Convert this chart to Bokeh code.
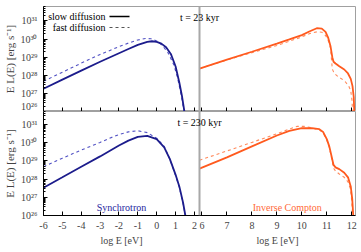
import math
from bokeh.plotting import figure
from bokeh.models import (Range1d, FixedTicker, CustomJSTickFormatter, Span, Label, Arrow, LinearAxis)
from bokeh.layouts import column
from bokeh.embed import file_html
from bokeh.resources import INLINE

# ---------------- data (log10 of E L(E) in erg/s, x = log10 E in eV) ----------------
syn_slow_23_x = [-6, -5, -4, -3, -2, -1.5, -1, -0.5, -0.25, 0, 0.25, 0.5, 0.75, 1.0, 1.2, 1.35, 1.47]
syn_slow_23_y = [27.26, 27.76, 28.26, 28.75, 29.22, 29.45, 29.68, 29.84, 29.88, 29.85, 29.75, 29.55, 29.18, 28.5, 27.6, 26.8, 26.0]
syn_fast_23_x = [-6, -5, -4, -3, -2, -1.5, -1, -0.6, -0.3, 0, 0.3, 0.6, 0.9, 1.1, 1.3, 1.45]
syn_fast_23_y = [27.67, 28.17, 28.67, 29.15, 29.58, 29.78, 29.95, 30.03, 30.02, 29.9, 29.65, 29.25, 28.6, 27.9, 26.9, 26.0]

syn_slow_230_x = [-6, -5, -4, -3, -2.5, -2, -1.5, -1, -0.5, 0, 0.4, 0.7, 1.0, 1.2, 1.4, 1.52]
syn_slow_230_y = [27.53, 28.1, 28.68, 29.25, 29.55, 29.85, 30.12, 30.32, 30.38, 30.2, 29.75, 29.1, 28.25, 27.6, 26.7, 26.0]
syn_fast_230_x = [-6, -5, -4, -3, -2.5, -2, -1.5, -1, -0.5, 0, 0.4, 0.7, 1.0, 1.2, 1.4, 1.52]
syn_fast_230_y = [28.68, 29.15, 29.6, 30.02, 30.25, 30.45, 30.6, 30.66, 30.56, 30.25, 29.8, 29.1, 28.2, 27.55, 26.65, 26.0]

ic_slow_23_x = [5.9, 7, 8, 9, 9.5, 10, 10.3, 10.6, 10.8, 10.95, 11.05, 11.15, 11.22, 11.27, 11.35, 11.5, 11.7, 11.85, 11.96, 12.03, 12.08, 12.1]
ic_slow_23_y = [28.37, 28.86, 29.3, 29.75, 29.98, 30.22, 30.42, 30.6, 30.58, 30.4, 30.1, 29.6, 29.0, 28.75, 28.65, 28.5, 28.32, 28.1, 27.8, 27.4, 26.8, 26.0]
ic_fast_23_x = [5.9, 7, 8, 9, 9.5, 10, 10.3, 10.6, 10.8, 10.95, 11.05, 11.15, 11.22, 11.3, 11.45, 11.6, 11.75, 11.88, 11.96, 12.01, 12.03]
ic_fast_23_y = [28.37, 28.85, 29.25, 29.65, 29.88, 30.12, 30.3, 30.4, 30.38, 30.2, 29.95, 29.5, 28.35, 28.1, 27.93, 27.8, 27.63, 27.4, 27.15, 26.6, 26.0]

ic_slow_230_x = [5.9, 7, 8, 9, 9.5, 10, 10.4, 10.7, 10.85, 11.0, 11.1, 11.2, 11.27, 11.35, 11.5, 11.7, 11.85, 11.96, 12.02, 12.06]
ic_slow_230_y = [28.58, 29.2, 29.8, 30.4, 30.65, 30.8, 30.8, 30.75, 30.6, 30.2, 29.8, 29.2, 28.78, 28.65, 28.55, 28.35, 28.1, 27.6, 26.9, 26.0]
ic_fast_230_x = [5.9, 7, 8, 9, 9.5, 9.8, 10.1, 10.4, 10.7, 10.85, 11.0, 11.1, 11.2, 11.27, 11.35, 11.5, 11.7, 11.85, 11.95, 12.0, 12.03]
ic_fast_230_y = [29.04, 29.55, 30.02, 30.5, 30.75, 30.9, 30.9, 30.82, 30.7, 30.55, 30.15, 29.75, 29.1, 28.6, 28.45, 28.28, 28.1, 27.85, 27.45, 26.8, 26.0]

syn_ticks = [-6, -5, -4, -3, -2, -1, 0, 1, 2]
syn_tick_labels = ["-6", "-5", "-4", "-3", "-2", "-1", "0", "1", "2"]
ic_ticks = [6, 7, 8, 9, 10, 11, 12]
ic_tick_labels = ["6", "7", "8", "9", "10", "11", "12"]
y_decades = [26, 27, 28, 29, 30, 31]

times = ["t = 23 kyr", "t = 230 kyr"]
x_title = "log E [eV]"
y_title = "E L(E) [erg s\u207b\u00b9]"

# ---------------- axis limits ----------------
SYN_LO, SYN_HI = -6.0, 2.27
IC_LO, IC_HI = 5.9, 12.15
MAIN_LO, MAIN_HI = SYN_LO, SYN_LO + 2 * (SYN_HI - SYN_LO)
ICR_LO, ICR_HI = IC_LO - (IC_HI - IC_LO), IC_HI

FONT = "Liberation Serif"
SYN_SOLID, SYN_DASH = "#1c1c8c", "#5252c4"
IC_SOLID, IC_DASH = "#ff5a1e", "#ff8a5c"


def ic_to_main(v):
    return MAIN_LO + (v - ICR_LO) / (ICR_HI - ICR_LO) * (MAIN_HI - MAIN_LO)


all_ticks = [float(t) for t in syn_ticks] + [ic_to_main(t) for t in ic_ticks]
all_labels = syn_tick_labels + ic_tick_labels
title_ticks = [(SYN_LO + SYN_HI) / 2, ic_to_main((IC_LO + IC_HI) / 2)]

Y_FMT = CustomJSTickFormatter(code=r"""
const e = Math.round(Math.log10(tick));
const sup = {"0":"\u2070","1":"\u00b9","2":"\u00b2","3":"\u00b3","4":"\u2074",
             "5":"\u2075","6":"\u2076","7":"\u2077","8":"\u2078","9":"\u2079","-":"\u207b"};
return "10" + String(e).split("").map(c => sup[c]).join("");
""")


def make_panel(idx, frame_h, y_hi_exp, series, show_xlabels):
    p = figure(frame_width=312, frame_height=frame_h,
               x_range=Range1d(MAIN_LO, MAIN_HI),
               y_range=Range1d(10 ** y_decades[0], 10 ** y_hi_exp),
               y_axis_type="log", toolbar_location=None, output_backend="svg",
               min_border_left=41, min_border_right=8,
               min_border_top=6 if idx == 0 else 0,
               min_border_bottom=37 if show_xlabels else 0,
               outline_line_color="#a0a0a0", background_fill_color="white",
               border_fill_color="white")
    p.extra_x_ranges = {"ic": Range1d(ICR_LO, ICR_HI)}
    p.grid.visible = False

    # y axis
    ya = p.yaxis[0]
    minors = [m * 10.0 ** d for d in y_decades for m in range(2, 10)]
    ya.ticker = FixedTicker(ticks=[10.0 ** d for d in y_decades], minor_ticks=minors)
    ya.formatter = Y_FMT
    ya.major_tick_in, ya.major_tick_out = 4, 0
    ya.minor_tick_in, ya.minor_tick_out = 2, 0
    ya.axis_line_color = "black"
    ya.major_label_text_font = FONT
    ya.major_label_text_font_size = "10px"
    ya.major_label_standoff = 6
    ya.axis_label = y_title
    ya.axis_label_text_font = FONT
    ya.axis_label_text_font_style = "normal"
    ya.axis_label_text_font_size = "11px"
    ya.axis_label_standoff = 2

    # x axis
    xa = p.xaxis[0]
    xa.ticker = FixedTicker(ticks=all_ticks)
    xa.major_tick_in, xa.major_tick_out = 4, 0
    xa.minor_tick_in, xa.minor_tick_out = 0, 0
    xa.axis_line_color = "black"
    xa.major_label_text_font = FONT
    if show_xlabels:
        xa.formatter = CustomJSTickFormatter(args=dict(pos=all_ticks, labs=all_labels), code="""
let best = 0, bd = Infinity;
for (let i = 0; i < pos.length; i++) { const d = Math.abs(pos[i] - tick); if (d < bd) { bd = d; best = i; } }
return labs[best];
""")
        xa.major_label_text_font_size = "10px"
        xa.major_label_standoff = 6
        # second row under the tick labels: one title centred under each energy band
        ta = LinearAxis(ticker=FixedTicker(ticks=title_ticks),
                        formatter=CustomJSTickFormatter(args=dict(t=x_title), code="return t;"),
                        axis_line_color=None, major_tick_line_color=None,
                        minor_tick_line_color=None, major_label_standoff=3,
                        major_tick_in=0, major_tick_out=0,
                        major_label_text_font=FONT, major_label_text_font_size="10px")
        p.add_layout(ta, "below")
    else:
        xa.formatter = CustomJSTickFormatter(code="return '';")
        xa.major_label_text_color = None
        xa.major_label_text_font_size = "1px"
        xa.major_label_standoff = 0

    # curves
    (sx1, sy1), (sx2, sy2), (ix1, iy1), (ix2, iy2) = series
    p.line(sx2, [10 ** v for v in sy2], line_color=SYN_DASH, line_width=1.1, line_dash="3 3")
    p.line(sx1, [10 ** v for v in sy1], line_color=SYN_SOLID, line_width=1.8)
    p.line(ix2, [10 ** v for v in iy2], line_color=IC_DASH, line_width=1.1, line_dash="3 3",
           x_range_name="ic")
    p.line(ix1, [10 ** v for v in iy1], line_color=IC_SOLID, line_width=1.8, x_range_name="ic")

    # divider between the two energy bands
    p.add_layout(Span(location=IC_LO, dimension="height", x_range_name="ic",
                      line_color="#a8a8a8", line_width=2))

    # time label
    p.add_layout(Label(x=IC_LO, x_range_name="ic", y=frame_h - 10.5, y_units="screen",
                       text=times[idx], text_align="center", text_baseline="middle",
                       text_font=FONT, text_font_size="10px", text_color="black"))
    return p


top = make_panel(0, 105, 31.8,
                 [(syn_slow_23_x, syn_slow_23_y), (syn_fast_23_x, syn_fast_23_y),
                  (ic_slow_23_x, ic_slow_23_y), (ic_fast_23_x, ic_fast_23_y)], False)
bot = make_panel(1, 104, 31.72,
                 [(syn_slow_230_x, syn_slow_230_y), (syn_fast_230_x, syn_fast_230_y),
                  (ic_slow_230_x, ic_slow_230_y), (ic_fast_230_x, ic_fast_230_y)], True)

# legend (gnuplot style: text then sample)
for row, (txt, dash, col) in enumerate([("slow diffusion", "solid", "black"),
                                         ("fast diffusion", "3 3", "#555555")]):
    yy = 105 - 10 - 11 * row
    top.add_layout(Label(x=62, y=yy, x_units="screen", y_units="screen", text=txt,
                         text_align="right", text_baseline="middle", text_font=FONT,
                         text_font_size="10px", text_color="black"))
    top.add_layout(Arrow(end=None, x_start=66, y_start=yy, x_end=86, y_end=yy,
                         start_units="screen", end_units="screen",
                         line_color=col, line_width=1.6 if row == 0 else 1.1, line_dash=dash))

# band labels in bottom panel
bot.add_layout(Label(x=(SYN_LO + SYN_HI) / 2, y=8, y_units="screen", text="Synchrotron",
                     text_align="center", text_baseline="middle", text_font=FONT,
                     text_font_size="10px", text_color="#2626a0"))
bot.add_layout(Label(x=8.03, x_range_name="ic", y=8, y_units="screen", text="Inverse Compton",
                     text_align="left", text_baseline="middle", text_font=FONT,
                     text_font_size="10px", text_color="#ff6a38"))

layout = column(top, bot, spacing=0)
open("out.html", "w", encoding="utf-8").write(file_html(layout, INLINE))
